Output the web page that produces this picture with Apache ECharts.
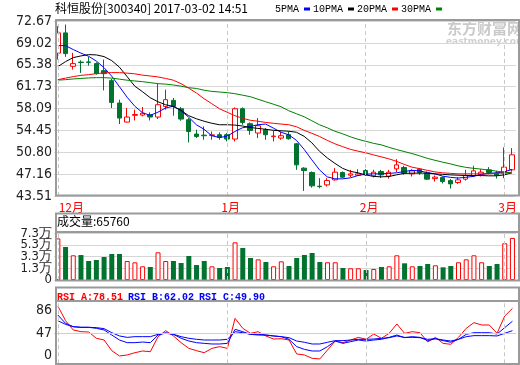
<!DOCTYPE html>
<html><head><meta charset="utf-8">
<script src="https://cdn.jsdelivr.net/npm/echarts@6/dist/echarts.min.js"></script>
<style>html,body{margin:0;padding:0;background:#fff}#c{width:520px;height:365px}</style>
</head><body><div id="c"></div>
<script>
const dates = ['2016-12-01','2016-12-02','2016-12-05','2016-12-06','2016-12-07','2016-12-08','2016-12-09','2016-12-12','2016-12-13','2016-12-14','2016-12-15','2016-12-16','2016-12-19','2016-12-20','2016-12-21','2016-12-22','2016-12-23','2016-12-26','2016-12-27','2016-12-28','2016-12-29','2016-12-30',
'2017-01-03','2017-01-04','2017-01-05','2017-01-06','2017-01-09','2017-01-10','2017-01-11','2017-01-12','2017-01-13','2017-01-16','2017-01-17','2017-01-18','2017-01-19','2017-01-20','2017-01-23','2017-01-24','2017-01-25','2017-01-26',
'2017-02-03','2017-02-06','2017-02-07','2017-02-08','2017-02-09','2017-02-10','2017-02-13','2017-02-14','2017-02-15','2017-02-16','2017-02-17','2017-02-20','2017-02-21','2017-02-22','2017-02-23','2017-02-24','2017-02-27','2017-02-28',
'2017-03-01','2017-03-02'];
const openP = [67.32,70.69,65.12,65.82,65.85,65.57,64.40,62.73,59.00,55.83,56.95,57.00,57.05,56.67,58.44,59.44,58.05,56.22,53.83,53.65,53.60,53.72,53.72,53.00,58.05,55.55,54.00,54.55,53.40,53.16,53.72,52.21,48.15,47.42,45.15,45.36,46.20,47.42,46.98,46.98,47.75,46.87,47.59,46.82,48.03,48.26,47.20,47.98,47.32,46.40,46.60,46.08,45.75,46.32,46.87,47.08,47.87,47.32,47.32,47.87];
const closeP = [70.69,67.24,65.57,65.76,65.78,63.90,63.90,59.11,56.50,56.67,57.10,57.30,56.67,58.72,59.56,58.44,56.33,54.26,53.43,53.55,53.70,53.27,53.00,58.05,55.77,54.43,55.22,53.72,53.50,53.55,53.05,48.70,47.75,45.20,45.08,46.08,47.48,46.65,47.20,47.20,47.03,47.48,47.03,47.48,48.70,47.32,47.70,47.42,46.32,46.65,45.92,45.53,46.20,46.92,47.70,47.48,47.42,46.98,48.32,50.37];
const lowP = [66.24,66.69,64.57,64.02,65.23,63.73,61.11,58.17,55.50,55.77,56.10,56.77,56.10,56.33,57.89,56.89,56.05,52.43,53.16,52.88,52.88,52.88,52.60,52.60,55.38,53.72,53.16,52.88,52.60,52.88,52.90,47.87,44.36,44.91,44.80,45.08,46.08,46.50,46.65,46.87,46.87,46.60,46.50,46.40,47.48,47.04,46.76,47.04,46.20,45.92,45.60,44.75,45.53,46.08,46.65,46.76,47.15,46.42,46.48,47.59];
const highP = [71.80,72.08,67.36,66.12,66.69,65.79,66.24,63.01,59.56,58.17,57.89,58.34,57.44,62.18,61.23,59.84,58.34,56.50,54.55,55.10,54.26,54.10,54.00,58.27,58.27,55.77,56.50,54.83,54.38,54.20,54.26,52.32,48.30,47.60,46.48,46.48,48.15,47.60,47.87,47.98,47.98,47.87,47.87,47.87,49.65,48.54,47.98,48.15,47.60,46.92,46.75,46.32,46.65,47.87,48.54,47.98,48.32,47.70,51.60,51.49];
const volume = [65000,51600,38600,39000,29700,31300,36000,40600,40600,29700,27600,21400,20300,43300,29700,29700,26600,37500,23400,29700,21400,18800,20300,58900,50000,34400,32300,28100,21400,29200,21900,34400,39100,42200,28100,27700,27700,18800,18300,18300,15600,17200,20300,21400,38600,26100,21400,21900,25000,23000,19800,21900,27700,32300,38600,27700,21900,25000,57400,65760];
const ma5 = [68.57,68.57,67.91,67.32,66.79,65.99,64.90,63.48,61.73,59.97,58.47,57.39,56.94,57.47,58.17,58.47,57.72,56.64,55.38,54.63,53.55,53.26,53.46,54.26,54.88,55.10,55.38,55.50,54.83,54.13,53.71,52.79,51.29,49.54,47.87,46.70,46.37,46.37,46.53,46.92,47.15,47.20,47.20,47.28,47.37,47.59,47.79,47.70,47.42,47.20,46.82,46.62,46.50,46.62,46.78,47.12,47.28,47.37,47.53,47.95];
const ma10 = [65.07,65.90,66.57,66.85,67.07,67.02,66.74,66.07,64.98,63.40,61.81,60.89,59.89,59.22,58.72,58.44,57.80,56.89,56.38,55.97,55.63,55.38,55.38,55.33,55.17,54.93,54.77,54.63,54.46,54.38,54.30,54.13,53.46,52.38,50.96,49.87,48.95,48.12,47.62,47.37,47.03,46.78,46.70,46.75,47.03,47.28,47.32,47.32,47.32,47.20,47.12,47.03,46.98,46.92,46.92,46.92,46.87,46.87,47.03,47.37];
const ma20 = [62.90,63.15,63.40,63.61,63.73,63.90,64.02,64.07,64.07,63.98,63.87,63.65,63.51,63.35,63.10,62.81,62.23,61.48,60.68,59.72,58.89,58.05,57.47,56.89,56.47,56.13,55.97,55.77,55.63,55.50,55.38,55.05,54.46,53.96,53.43,52.79,52.21,51.74,51.29,50.99,50.71,50.37,50.04,49.71,49.29,48.79,48.32,48.07,47.79,47.53,47.37,47.28,47.20,47.20,47.20,47.20,47.20,47.28,47.37,47.48];
const ma30 = [62.81,62.90,63.01,63.10,63.18,63.23,63.23,63.15,62.98,62.81,62.68,62.56,62.40,62.23,62.15,62.01,61.81,61.56,61.43,61.14,60.94,60.84,60.73,60.56,60.31,60.06,59.64,59.22,58.81,58.39,57.72,57.22,56.72,56.05,55.38,54.88,54.30,53.88,53.38,52.96,52.63,52.29,52.04,51.63,51.26,50.92,50.59,50.21,49.79,49.46,49.15,48.87,48.54,48.29,48.12,47.99,47.82,47.65,47.48,47.32];
const rsiA = [81.6,62.7,50.8,48.6,48.2,40.1,37.9,24.2,17.4,18.7,21.6,23.8,22.9,42.0,49.9,43.1,34.5,27.2,24.2,21.6,27.2,29.4,27.2,65.7,52.9,46.5,48.6,43.1,39.2,39.6,37.9,20.0,18.7,14.4,13.6,25.1,36.6,34.5,37.9,41.3,38.8,45.6,40.1,46.5,58.5,46.5,48.6,47.3,35.4,41.3,33.6,32.4,41.3,52.9,60.2,57.2,57.2,46.5,68.7,78.51];
const rsiB = [70.0,59.3,55.0,54.2,54.2,52.9,50.8,44.3,37.9,34.5,34.5,35.3,34.5,44.3,47.3,45.2,40.1,36.6,34.5,33.6,32.8,32.8,33.6,51.6,48.6,45.2,45.2,44.3,43.1,42.2,38.8,29.4,25.9,23.8,23.8,29.4,36.6,33.6,35.8,37.9,36.6,37.9,38.8,41.3,44.3,40.9,42.2,41.3,37.1,39.6,37.1,35.0,38.8,45.2,47.3,47.3,47.3,45.6,53.8,62.02];
const rsiC = [62.7,58.0,55.0,54.2,54.2,53.8,52.5,47.3,43.1,41.3,42.2,42.2,42.2,45.2,46.5,45.2,42.2,40.1,38.8,37.9,37.9,37.9,38.8,48.6,47.3,45.2,44.3,44.3,43.1,42.2,40.9,36.6,35.0,32.8,32.8,35.0,37.1,37.1,37.9,38.8,38.8,39.2,40.1,40.9,43.1,41.3,41.3,40.9,38.8,39.6,37.9,36.6,38.8,42.2,43.5,43.5,43.5,43.1,46.5,49.90];
const priceTicks = ['43.51','47.16','50.80','54.45','58.09','61.73','65.38','69.02','72.67'];
const volTicks = ['0','1.3万','3.3万','5.3万','7.3万'];
const rsiTicks = ['0','47','86'];
const maNames = ['5PMA','10PMA','20PMA','30PMA'];

const RED = '#ff0000', GREEN = '#00732f', BLUE = '#0000ff';
const numFont = "'Liberation Sans Narrow','Arial Narrow','DejaVu Sans Condensed',sans-serif";
const monoFont = "'Liberation Mono','DejaVu Sans Mono',monospace";
const cjkFont = "'Noto Sans CJK SC',sans-serif";

const kData = dates.map((d, i) => [openP[i], closeP[i], lowP[i], highP[i]]);
const volData = volume.map((v, i) => closeP[i] >= openP[i]
  ? { value: v, itemStyle: { color: '#fff', borderColor: RED, borderWidth: 1 } }
  : { value: v, itemStyle: { color: GREEN } });
const monthStarts = dates.map((d, i) => i).filter(i => i === 0 || dates[i].slice(5, 7) !== dates[i - 1].slice(5, 7));
const dashLine = { color: '#c8c8c8', type: [4, 3], width: 1 };
const monthMark = {
  silent: true, symbol: ['none', 'none'], label: { show: false }, lineStyle: dashLine,
  data: monthStarts.map(i => ({ xAxis: dates[i] }))
};

const G = { left: 54, right: 3.7 };
const chart = echarts.init(document.getElementById('c'), null, { renderer: 'canvas' });
const baseX = (gi, showLabel) => ({
  type: 'category', gridIndex: gi, data: dates, boundaryGap: true,
  axisLine: { show: false }, axisTick: { show: false }, splitLine: { show: false },
  axisLabel: showLabel ? {
    show: true, margin: 5, color: RED, fontSize: 12, fontFamily: cjkFont,
    interval: (idx) => monthStarts.indexOf(idx) >= 0,
    formatter: (v, idx) => {
      const m = parseInt(v.slice(5, 7), 10) + '月';
      return idx === 0 ? '{f|' + m + '}' : '{m|' + m + '}';
    },
    rich: {
      f: { color: RED, fontSize: 12, fontFamily: cjkFont, padding: [0, 0, 0, 27] },
      m: { color: RED, fontSize: 12, fontFamily: cjkFont, padding: [0, 0, 0, 7] }
    }
  } : { show: false }
});
const labelBase = { color: '#222', fontSize: 14, fontFamily: numFont, margin: 2, showMinLabel: true, showMaxLabel: true, hideOverlap: false };
// volume axis: labels split over two coincident axes so none overlap
const volAxis = (part) => ({
  type: 'value', gridIndex: 1, min: 0, max: 73000, interval: 18250, position: 'left', offset: 0,
  axisLine: { show: false }, axisTick: { show: false },
  splitLine: part === 0 ? { lineStyle: { color: '#d6d6d6', width: 1 } } : { show: false },
  axisLabel: Object.assign({}, labelBase, {
    fontSize: 13,
    formatter: v => { const k = Math.round(v / 18250); return (k % 2 === part) ? volTicks[k] : ''; } })
});

chart.setOption({
  animation: false,
  backgroundColor: '#fff',
  title: [
    { text: '科恒股份[300340] 2017-03-02 14:51', left: 55, top: 2, padding: 0,
      textStyle: { fontSize: 12, fontWeight: 'normal', fontFamily: cjkFont, color: '#000' } },
    { text: '成交量:' + volume[volume.length - 1], left: 57, top: 215, padding: 0,
      textStyle: { fontSize: 12, fontWeight: 'normal', fontFamily: cjkFont, color: '#000' } },
    { text: '{a|RSI_A:' + rsiA[59].toFixed(2) + '} {b|RSI_B:' + rsiB[59].toFixed(2) + '} {b|RSI_C:' + rsiC[59].toFixed(2) + '}',
      left: 57, top: 288, padding: 0,
      textStyle: { rich: {
        a: { color: RED, fontSize: 10, fontFamily: monoFont },
        b: { color: BLUE, fontSize: 10, fontFamily: monoFont } } } }
  ],
  legend: {
    data: maNames, left: 275, top: 4, padding: 0, align: 'right', icon: 'rect',
    itemWidth: 6, itemHeight: 3, itemGap: 3,
    textStyle: { fontSize: 10, fontFamily: monoFont, color: '#000', padding: 0 }
  },
  grid: [
    { left: G.left, right: G.right, top: 21, height: 175 },
    { left: G.left, right: G.right, top: 233.3, height: 46.7 },
    { left: G.left, right: G.right, top: 301, height: 62.3 }
  ],
  xAxis: [baseX(0, true), baseX(1, false), baseX(2, false)],
  yAxis: [
    { type: 'value', gridIndex: 0, min: 43.51, max: 72.67, interval: 3.645, scale: true,
      axisLine: { show: false }, axisTick: { show: false },
      splitLine: { lineStyle: { color: '#d6d6d6', width: 1 } },
      axisLabel: Object.assign({}, labelBase, {
        formatter: v => priceTicks[Math.round((v - 43.51) / 3.645)] })
    },
    volAxis(0),
    { type: 'value', gridIndex: 2, min: 8, max: 88, interval: 39,
      axisLine: { show: false }, axisTick: { show: false }, splitLine: { show: false },
      axisLabel: Object.assign({}, labelBase, {
        formatter: v => {
          const k = (v - 8) / 39, r = Math.round(k);
          if (Math.abs(k - r) > 0.01) return '';
          return (r === 2 ? '{t|' : r === 0 ? '{b|' : '{m|') + rsiTicks[r] + '}';
        },
        rich: {
          t: { color: '#222', fontSize: 14, fontFamily: numFont, padding: [15, 0, 0, 0] },
          m: { color: '#222', fontSize: 14, fontFamily: numFont },
          b: { color: '#222', fontSize: 14, fontFamily: numFont, padding: [0, 0, 16, 0] }
        }
      })
    },
    volAxis(1)
  ],
  series: [
    { type: 'candlestick', name: 'K', xAxisIndex: 0, yAxisIndex: 0, data: kData, barWidth: 5,
      itemStyle: { color: '#fff', color0: GREEN, borderColor: RED, borderColor0: GREEN, borderWidth: 1 },
      markLine: monthMark, z: 2 },
    { type: 'line', name: maNames[0], xAxisIndex: 0, yAxisIndex: 0, data: ma5, showSymbol: false, color: BLUE,
      lineStyle: { color: BLUE, width: 1 }, z: 3 },
    { type: 'line', name: maNames[1], xAxisIndex: 0, yAxisIndex: 0, data: ma10, showSymbol: false, color: '#000',
      lineStyle: { color: '#000', width: 1 }, z: 3 },
    { type: 'line', name: maNames[2], xAxisIndex: 0, yAxisIndex: 0, data: ma20, showSymbol: false, color: RED,
      lineStyle: { color: RED, width: 1 }, z: 3 },
    { type: 'line', name: maNames[3], xAxisIndex: 0, yAxisIndex: 0, data: ma30, showSymbol: false, color: '#008000',
      lineStyle: { color: '#008000', width: 1 }, z: 3 },
    { type: 'bar', name: 'VOL', xAxisIndex: 1, yAxisIndex: 1, data: volData, barWidth: 5,
      markLine: monthMark },
    { type: 'line', name: 'RSI_A', xAxisIndex: 2, yAxisIndex: 2, data: rsiA, showSymbol: false,
      lineStyle: { color: RED, width: 1 },
      markLine: {
        silent: true, symbol: ['none', 'none'], label: { show: false }, lineStyle: dashLine,
        data: monthStarts.map(i => ({ xAxis: dates[i] })).concat([{ yAxis: 47, lineStyle: { color: '#cfcfcf', type: 'solid', width: 1 } }])
      } },
    { type: 'line', name: 'RSI_B', xAxisIndex: 2, yAxisIndex: 2, data: rsiB, showSymbol: false,
      lineStyle: { color: BLUE, width: 1 } },
    { type: 'line', name: 'RSI_C', xAxisIndex: 2, yAxisIndex: 2, data: rsiC, showSymbol: false,
      lineStyle: { color: BLUE, width: 1 } }
  ],
  graphic: [
    { type: 'text', left: 447, top: 21, z: 0, silent: true,
      style: { text: '东方财富网', fill: '#cacaca', font: "bold 15px 'Noto Sans CJK SC',sans-serif" } },
    { type: 'text', left: 446, top: 37, z: 0, silent: true,
      style: { text: 'eastmoney.com', fill: '#d0d0d0', font: "bold 9px 'DejaVu Sans',sans-serif" } },
    { type: 'rect', z: 100, silent: true, shape: { x: 56, y: 20, width: 463, height: 175.5 },
      style: { fill: 'none', stroke: '#9a9a9a', lineWidth: 2 } },
    { type: 'rect', z: 100, silent: true, shape: { x: 56, y: 213.5, width: 463, height: 67 },
      style: { fill: 'none', stroke: '#9a9a9a', lineWidth: 2 } },
    { type: 'line', z: 100, silent: true, shape: { x1: 56, y1: 232, x2: 519, y2: 232 },
      style: { stroke: '#9a9a9a', lineWidth: 2 } },
    { type: 'rect', z: 100, silent: true, shape: { x: 56, y: 287.5, width: 463, height: 76.5 },
      style: { fill: 'none', stroke: '#9a9a9a', lineWidth: 2 } },
    { type: 'line', z: 100, silent: true, shape: { x1: 56, y1: 301, x2: 519, y2: 301 },
      style: { stroke: '#9a9a9a', lineWidth: 2 } }
  ]
});
</script>
</body></html>
